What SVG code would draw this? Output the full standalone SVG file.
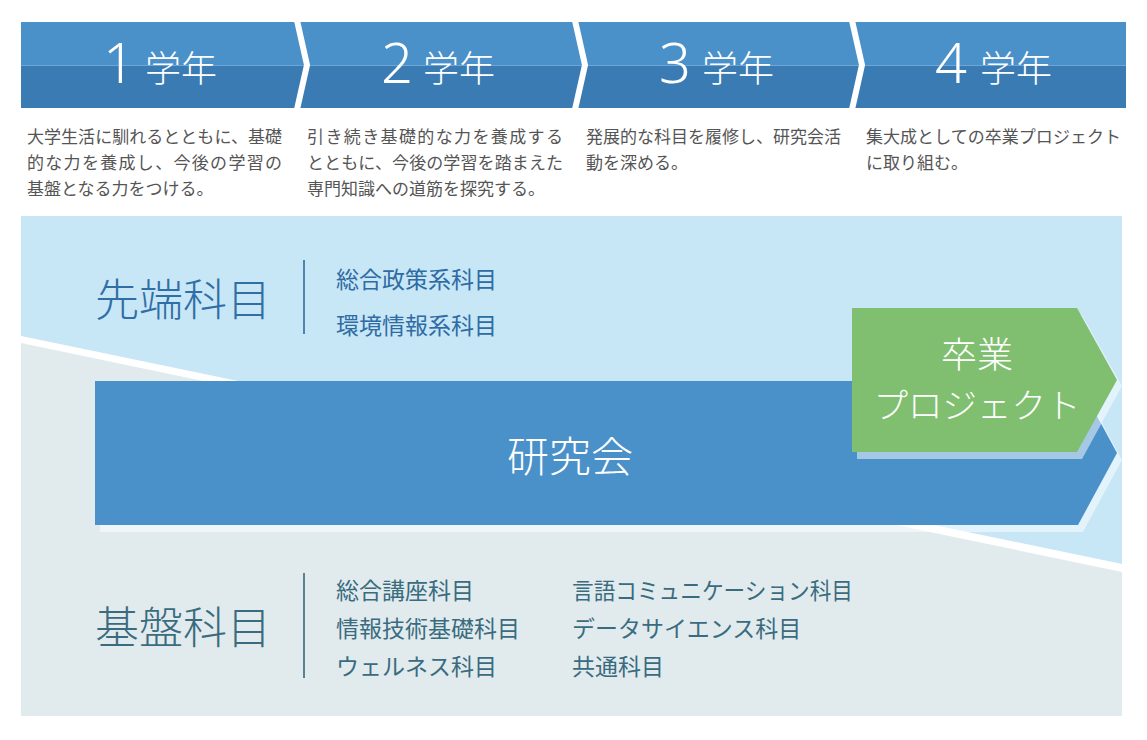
<svg xmlns="http://www.w3.org/2000/svg" width="1147" height="740" viewBox="0 0 1147 740">
<style>
.jp{font-family:"Noto Sans CJK JP","Noto Sans",sans-serif}
.num{font-family:"Noto Sans","Noto Sans CJK JP",sans-serif;font-size:56px;font-weight:300;fill:#fff;text-anchor:middle}
.yr{font-size:36px;font-weight:300;fill:#fff}
.desc{font-size:17px;fill:#555}
.cat1{font-size:44px;font-weight:300;fill:#2f6ea6}
.sub1{font-size:23px;fill:#2e6ca3}
.cat2{font-size:44px;font-weight:300;fill:#3a6b7f}
.sub2{font-size:23px;fill:#3a6b7f}
.big{font-weight:300;fill:#fff;text-anchor:middle}
.shadow{fill:#fff;fill-opacity:0.5}
</style>
<rect width="1147" height="740" fill="#fff"/>

<!-- header band -->
<g id="header">
  <rect x="21" y="22" width="1105" height="43" fill="#4a90c9"/>
  <rect x="21" y="65" width="1105" height="43" fill="#3b7bb4"/>
  <line x1="21" y1="65.5" x2="1126" y2="65.5" stroke="#6ea6d6" stroke-width="1"/>
  <g fill="none" stroke="#fff" stroke-width="6" stroke-linejoin="miter">
    <polyline points="296,16 307,65 296,114"/>
    <polyline points="574,16 585,65 574,114"/>
    <polyline points="851,16 862,65 851,114"/>
  </g>
</g>

<g id="year1" class="jp">
  <text class="num" x="119" y="83">1</text>
  <text class="jp yr" x="145" y="82">学年</text>
  <text class="jp desc" x="27" y="143" textLength="255" lengthAdjust="spacing">大学生活に馴れるとともに、基礎</text>
  <text class="jp desc" x="27" y="169" textLength="255" lengthAdjust="spacing">的な力を養成し、今後の学習の</text>
  <text class="jp desc" x="27" y="195">基盤となる力をつける。</text>
</g>
<g id="year2" class="jp">
  <text class="num" x="397" y="83">2</text>
  <text class="jp yr" x="423" y="82">学年</text>
  <text class="jp desc" x="307" y="143" textLength="256" lengthAdjust="spacing">引き続き基礎的な力を養成する</text>
  <text class="jp desc" x="307" y="169" textLength="256" lengthAdjust="spacing">とともに、今後の学習を踏まえた</text>
  <text class="jp desc" x="307" y="195">専門知識への道筋を探究する。</text>
</g>
<g id="year3" class="jp">
  <text class="num" x="675" y="83">3</text>
  <text class="jp yr" x="702" y="82">学年</text>
  <text class="jp desc" x="586" y="143" textLength="255" lengthAdjust="spacing">発展的な科目を履修し、研究会活</text>
  <text class="jp desc" x="586" y="169">動を深める。</text>
</g>
<g id="year4" class="jp">
  <text class="num" x="951" y="83">4</text>
  <text class="jp yr" x="980" y="82">学年</text>
  <text class="jp desc" x="866" y="143" textLength="255" lengthAdjust="spacing">集大成としての卒業プロジェクト</text>
  <text class="jp desc" x="866" y="169">に取り組む。</text>
</g>

<!-- background zones -->
<g id="zones">
  <rect x="21" y="216" width="1101" height="500" fill="#e1ebee"/>
  <polygon points="21,216 1122,216 1122,564 21,336" fill="#c7e6f6"/>
  <polygon points="21,336 1122,564 1122,572 21,343" fill="#fff"/>
</g>

<g id="advanced">
  <text class="jp cat1" x="95" y="316">先端科目</text>
  <line x1="304" y1="260" x2="304" y2="334" stroke="#4f84b0" stroke-width="2"/>
  <text class="jp sub1" x="336" y="288">総合政策系科目</text>
  <text class="jp sub1" x="336" y="334">環境情報系科目</text>
</g>

<g id="basic">
  <text class="jp cat2" x="95" y="644">基盤科目</text>
  <line x1="304" y1="573" x2="304" y2="678" stroke="#5a8193" stroke-width="2"/>
  <text class="jp sub2" x="336" y="599">総合講座科目</text>
  <text class="jp sub2" x="336" y="637">情報技術基礎科目</text>
  <text class="jp sub2" x="336" y="675">ウェルネス科目</text>
  <text class="jp sub2" x="572" y="599" textLength="281" lengthAdjust="spacingAndGlyphs">言語コミュニケーション科目</text>
  <text class="jp sub2" x="572" y="637">データサイエンス科目</text>
  <text class="jp sub2" x="572" y="675">共通科目</text>
</g>

<g id="kenkyukai">
  <polygon class="shadow" points="100,388 1083,388 1122,460 1083,532 100,532"/>
  <polygon points="95,381 1078,381 1117,453 1078,525 95,525" fill="#4a90c9"/>
  <text class="jp big" x="570" y="472" font-size="42">研究会</text>
</g>

<g id="sotsugyo">
  <polygon class="shadow" points="857,315 1082,315 1122,386 1082,459 857,459"/>
  <polygon points="852,308 1077,308 1117,380 1077,452 852,452" fill="#80bf6f"/>
  <text class="jp big" x="977" y="368" font-size="36">卒業</text>
  <text class="jp big" x="977" y="418" font-size="34" textLength="207" lengthAdjust="spacingAndGlyphs">プロジェクト</text>
</g>

<g id="connectors"/>
</svg>
